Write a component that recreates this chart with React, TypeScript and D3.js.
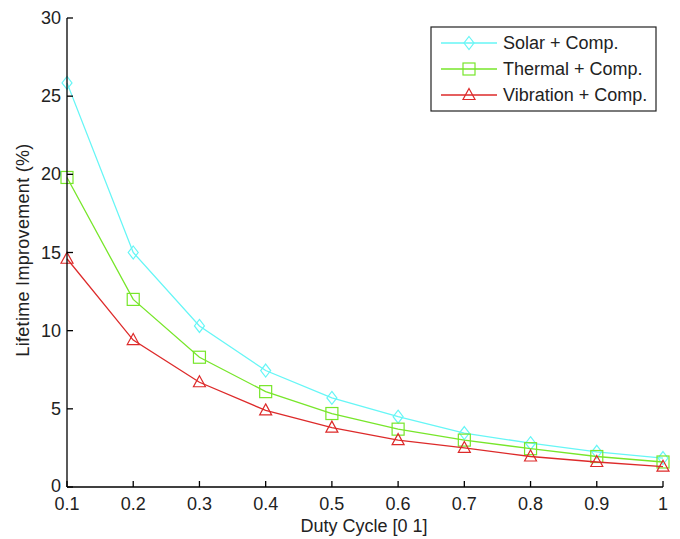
import React from "react";
import * as d3 from "d3";

const dutyCycle = [0.1, 0.2, 0.3, 0.4, 0.5, 0.6, 0.7, 0.8, 0.9, 1.0];
const solar = [25.85, 15.0, 10.3, 7.45, 5.7, 4.5, 3.45, 2.8, 2.25, 1.85];
const thermal = [19.8, 12.0, 8.3, 6.1, 4.7, 3.7, 3.0, 2.45, 1.95, 1.6];
const vibration = [14.6, 9.4, 6.7, 4.9, 3.8, 3.0, 2.5, 1.95, 1.6, 1.3];
const xTicks = [0.1, 0.2, 0.3, 0.4, 0.5, 0.6, 0.7, 0.8, 0.9, 1];
const yTicks = [0, 5, 10, 15, 20, 25, 30];
const seriesNames = ["Solar + Comp.", "Thermal + Comp.", "Vibration + Comp."];

const FONT = "'Liberation Sans', Arial, sans-serif";
const FS = 18;

function Marker({ kind, x, y, color }: { kind: string; x: number; y: number; color: string }) {
  if (kind === "diamond") {
    const p = `M${x},${y - 6.5}L${x + 5},${y}L${x},${y + 6.5}L${x - 5},${y}Z`;
    return <path d={p} fill="none" stroke={color} strokeWidth={1.2} />;
  }
  if (kind === "square") {
    return <rect x={x - 6} y={y - 6} width={12} height={12} fill="none" stroke={color} strokeWidth={1.2} />;
  }
  const p = `M${x},${y - 6.5}L${x + 6},${y + 4.5}L${x - 6},${y + 4.5}Z`;
  return <path d={p} fill="none" stroke={color} strokeWidth={1.2} />;
}

export default function App() {
  const W = 680, H = 539;
  const x = d3.scaleLinear().domain([0.1, 1]).range([67, 663]);
  const y = d3.scaleLinear().domain([0, 30]).range([487, 18]);
  const series = [
    { name: seriesNames[0], data: solar, color: "#66f6f6", kind: "diamond" },
    { name: seriesNames[1], data: thermal, color: "#77e62a", kind: "square" },
    { name: seriesNames[2], data: vibration, color: "#dd2a2a", kind: "triangle" },
  ];
  const line = d3.line<number>().x((_, i) => x(dutyCycle[i])).y((d) => y(d));

  return (
    <svg width={W} height={H} style={{ position: "absolute", left: 0, top: 0, background: "#fff" }} fontFamily={FONT}>
      <rect x={0} y={0} width={W} height={H} fill="#fff" />
      {series.map((s) => (
        <g key={s.name}>
          <path d={line(s.data) || ""} fill="none" stroke={s.color} strokeWidth={1.3} />
          {s.data.map((v, i) => (
            <Marker key={i} kind={s.kind} x={x(dutyCycle[i])} y={y(v)} color={s.color} />
          ))}
        </g>
      ))}
      {/* axes */}
      <line x1={x(0.1)} x2={x(1)} y1={y(0)} y2={y(0)} stroke="#000" strokeWidth={1.3} />
      <line x1={x(0.1)} x2={x(0.1)} y1={y(0)} y2={y(30)} stroke="#000" strokeWidth={1.3} />
      {yTicks.map((t) => (
        <g key={"y" + t}>
          <line x1={x(0.1)} x2={x(0.1) + 6} y1={y(t)} y2={y(t)} stroke="#000" strokeWidth={1.3} />
          <text x={61} y={y(t) - (t === 0 ? 1 : 0)} dy="0.34em" textAnchor="end" fontSize={FS} fill="#222">{t}</text>
        </g>
      ))}
      {xTicks.map((t) => (
        <g key={"x" + t}>
          <line x1={x(t)} x2={x(t)} y1={y(0)} y2={y(0) - 6} stroke="#000" strokeWidth={1.3} />
          <text x={x(t)} y={510} textAnchor="middle" fontSize={FS} fill="#222">{t}</text>
        </g>
      ))}
      <text x={364} y={532} textAnchor="middle" fontSize={FS} fill="#222">Duty Cycle [0 1]</text>
      <text transform={`translate(29,250) rotate(-90)`} textAnchor="middle" fontSize={FS} letterSpacing={0.3} fill="#222">Lifetime Improvement (%)</text>
      {/* legend */}
      <rect x={431} y={27} width={225} height={84} fill="#fff" stroke="#222" strokeWidth={1.2} />
      {series.map((s, i) => {
        const ly = 43 + i * 26;
        return (
          <g key={"l" + i}>
            <line x1={441} x2={497} y1={ly} y2={ly} stroke={s.color} strokeWidth={1.3} />
            <Marker kind={s.kind} x={469} y={ly} color={s.color} />
            <text x={503} y={ly} dy="0.36em" fontSize={FS} fill="#222">{s.name}</text>
          </g>
        );
      })}
    </svg>
  );
}
